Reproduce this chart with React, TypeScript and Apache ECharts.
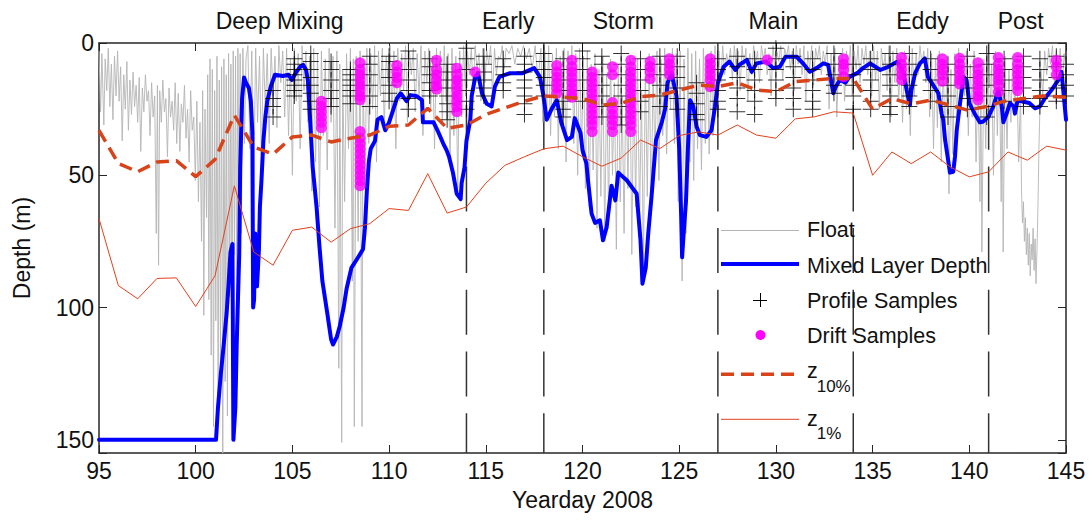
import React, { useEffect, useRef } from "react";
import * as echarts from "echarts";

// ---------- data ----------
const phaseNames = ["Deep Mixing", "Early", "Storm", "Main", "Eddy", "Post"];
const phaseCenters = [104.34, 116.16, 122.11, 129.87, 137.58, 142.66];
const phaseBoundaries = [114, 118, 127, 134, 141];

const z10Days = [95, 96, 97, 98, 99, 100, 101, 102, 103, 104, 105, 106, 107, 108, 109, 110, 111, 112, 113, 114, 115, 116, 117, 118, 119, 120, 121, 122, 123, 124, 125, 126, 127, 128, 129, 130, 131, 132, 133, 134, 135, 136, 137, 138, 139, 139.9, 140.9, 141.8, 142.8, 143.8, 145];
const z10Depths = [33, 45.5, 48.7, 45, 44.5, 50.5, 44, 27.3, 39.3, 42, 35.5, 34.8, 37.4, 36, 34.8, 31.5, 31, 24.7, 32.3, 31, 27, 24.5, 22, 20, 20.5, 21, 23.5, 22.8, 20.3, 19.7, 17.8, 15.9, 16.5, 15, 17.8, 18.4, 14.6, 14, 13.4, 13.4, 25, 21, 23, 21.6, 23.5, 25.4, 24, 22, 21, 20, 20.5];

const z1Days = [95, 96, 97, 98, 99, 100, 101, 102, 103, 104, 105, 106, 107, 108, 109, 110, 111, 112, 113, 114, 115, 116, 117, 118, 119, 120, 121, 122, 123, 124, 125, 126, 127, 128, 129, 130, 131, 132, 133, 134, 135, 136, 137, 138, 139, 140, 141, 142, 143, 144, 145];
const z1Depths = [66.4, 91.7, 96.7, 89, 88.8, 99.6, 88, 54, 79, 84, 70.8, 69.6, 75.3, 70.2, 68.3, 62.6, 63.3, 49.4, 64.3, 62, 53, 46.2, 43, 40, 39, 43, 46.6, 43.5, 36.7, 39.9, 35, 33.6, 34.8, 31, 34.8, 36, 28.7, 27.9, 26, 26.5, 50, 41.2, 45.6, 41.2, 46.8, 50.6, 48.7, 41.2, 44.3, 39, 40.5];

const mldTrack: [number, number][] = [
  [95, 150], [101.05, 150], [101.15, 138], [101.3, 125], [101.45, 114], [101.6, 102], [101.7, 91], [101.8, 79], [101.9, 76],
  [101.95, 150], [102.05, 138], [102.12, 114], [102.25, 80], [102.3, 47], [102.4, 21], [102.5, 13], [102.6, 15], [102.75, 17],
  [102.85, 22], [102.93, 34], [102.97, 100], [103.02, 97], [103.08, 72], [103.17, 92], [103.27, 78], [103.32, 62], [103.4, 52],
  [103.5, 37], [103.6, 28], [103.7, 22], [103.9, 16], [104.1, 12], [104.5, 12.5], [104.8, 12], [104.97, 14], [105.2, 11],
  [105.4, 9], [105.56, 8.3], [105.7, 10], [105.8, 14], [105.9, 27], [106.05, 47], [106.25, 62], [106.4, 77], [106.55, 90],
  [106.8, 102], [107.0, 112], [107.1, 114], [107.3, 111], [107.45, 107], [107.65, 100], [107.8, 93], [108.05, 85], [108.4, 81],
  [108.65, 78], [108.75, 70], [108.85, 56], [108.95, 45], [109.05, 40], [109.27, 37], [109.4, 29], [109.6, 28], [109.8, 33],
  [110.0, 30], [110.4, 21], [110.6, 19], [110.9, 22], [111.1, 19.7], [111.4, 20], [111.7, 21.6], [111.75, 30], [112.3, 30],
  [112.5, 33], [112.8, 38], [112.97, 40.5], [113.1, 43], [113.3, 49], [113.5, 57], [113.7, 59], [113.75, 53], [113.9, 47],
  [114.0, 37], [114.2, 29], [114.27, 20], [114.45, 13], [114.6, 11.4], [114.8, 19], [115.05, 23], [115.3, 24], [115.47, 16.5],
  [115.7, 12.8], [116.25, 11.4], [116.9, 11.4], [117.5, 9.5], [117.8, 12.8], [117.98, 20], [118.15, 29], [118.4, 25],
  [118.67, 21.6], [118.9, 30], [119.2, 36.7], [119.45, 35.5], [119.6, 28.4], [119.9, 34], [120.0, 40.5], [120.2, 45.5],
  [120.3, 53], [120.47, 64.5], [120.65, 68], [120.9, 67], [121.06, 74.6], [121.25, 69.6], [121.5, 54], [121.7, 59.5],
  [121.85, 49], [122.3, 52], [122.8, 57], [123.0, 74.6], [123.1, 91], [123.27, 85], [123.4, 72], [123.57, 58], [123.65, 50.6],
  [123.8, 36.7], [124.1, 30], [124.27, 25], [124.4, 15], [124.6, 11.4], [124.86, 20], [125.0, 40], [125.1, 65], [125.15, 81],
  [125.25, 70], [125.35, 60], [125.45, 40], [125.56, 21.6], [125.73, 24], [125.9, 31.7], [126.07, 34.8], [126.4, 35.5],
  [126.67, 33], [126.85, 24], [127.0, 15], [127.3, 9], [127.6, 7], [127.9, 10.2], [128.1, 8.3], [128.5, 6.4], [128.75, 10.9],
  [129.0, 7.7], [129.5, 7], [129.86, 9.5], [130.2, 9], [130.5, 5.2], [131.07, 5.2], [131.4, 7.7], [131.75, 10.9], [132.1, 9.5],
  [132.45, 7.7], [132.7, 8.3], [132.97, 19], [133.1, 16.5], [133.3, 14], [133.6, 15], [133.8, 12.8], [134.2, 11.4], [134.5, 9.5],
  [134.87, 7.7], [135.4, 10.2], [135.8, 9], [136.3, 7], [136.6, 11.4], [136.76, 17.8], [136.93, 23.5], [137.0, 18], [137.2, 11.4],
  [137.45, 7.7], [137.7, 5.8], [137.86, 12.8], [138.05, 15], [138.4, 19], [138.57, 26.7], [138.65, 29], [138.75, 36.7],
  [138.9, 44], [139.0, 49], [139.17, 48.7], [139.26, 43], [139.35, 33], [139.5, 24], [139.7, 12.8], [139.86, 14], [140.0, 22.7],
  [140.3, 27], [140.55, 30], [140.7, 29.8], [140.98, 28], [141.24, 24], [141.5, 17.8], [141.68, 24], [141.76, 30], [141.93, 26.7],
  [142.1, 22.7], [142.3, 24], [142.36, 26.7], [142.5, 21.6], [142.8, 22.2], [143.1, 22.7], [143.4, 24.7], [143.65, 24],
  [143.9, 21], [144.25, 17.8], [144.6, 14], [144.77, 10.9], [144.86, 18], [145.0, 29]
];

const floatTrack: [number, number][] = [
  [95.0, 3], [95.08, 26], [95.15, 4], [95.25, 31], [95.32, 6], [95.4, 18], [95.48, 2], [95.56, 24], [95.64, 8], [95.72, 29],
  [95.8, 5], [95.88, 20], [95.96, 3], [96.04, 22], [96.12, 9], [96.2, 37], [96.28, 12], [96.36, 25], [96.44, 7], [96.52, 33],
  [96.6, 14], [96.68, 27], [96.76, 11], [96.84, 24], [96.92, 16], [97.0, 30], [97.08, 13], [97.16, 41], [97.24, 17], [97.32, 26],
  [97.4, 12], [97.48, 22], [97.56, 18], [97.64, 35], [97.72, 15], [97.8, 28], [97.88, 20], [97.96, 72], [98.02, 16], [98.08, 84],
  [98.14, 18], [98.22, 30], [98.3, 14], [98.38, 26], [98.46, 21], [98.54, 43], [98.62, 17], [98.7, 28], [98.78, 22], [98.86, 33],
  [98.94, 15], [99.02, 38], [99.1, 19], [99.18, 41], [99.26, 23], [99.34, 30], [99.42, 16], [99.5, 36], [99.58, 25], [99.66, 45],
  [99.74, 18], [99.82, 33], [99.9, 28], [99.98, 52], [100.06, 22], [100.14, 60], [100.22, 30], [100.3, 75], [100.36, 18],
  [100.42, 103], [100.48, 25], [100.56, 66], [100.62, 12], [100.68, 97], [100.74, 6], [100.8, 118], [100.86, 10], [100.92, 145],
  [100.98, 18], [101.04, 105], [101.1, 5], [101.16, 138], [101.22, 14], [101.28, 120], [101.34, 9], [101.4, 155], [101.46, 6],
  [101.52, 128], [101.58, 12], [101.64, 141], [101.7, 4], [101.76, 96], [101.82, 8], [101.88, 112], [101.94, 3], [102.0, 80],
  [102.06, 5], [102.12, 98], [102.18, 2], [102.24, 55], [102.3, 4], [102.36, 72], [102.44, 2], [102.52, 38], [102.6, 6],
  [102.7, 1], [102.8, 40], [102.9, 3], [103.0, 55], [103.1, 2], [103.2, 30], [103.3, 5], [103.4, 45], [103.5, 2], [103.6, 25],
  [103.7, 4], [103.8, 38], [103.9, 2], [104.0, 20], [104.1, 5], [104.2, 32], [104.3, 1], [104.4, 15], [104.5, 3], [104.6, 28],
  [104.7, 2], [104.8, 35], [104.9, 6], [105.0, 50], [105.1, 2], [105.2, 22], [105.3, 4], [105.4, 40], [105.5, 1], [105.6, 18],
  [105.7, 3], [105.8, 30], [105.9, 5], [106.0, 56], [106.1, 2], [106.2, 45], [106.3, 4], [106.4, 62], [106.5, 3], [106.6, 35],
  [106.7, 6], [106.8, 48], [106.9, 2], [107.0, 30], [107.1, 5], [107.2, 70], [107.3, 3], [107.4, 123], [107.45, 8], [107.55, 151],
  [107.6, 10], [107.7, 60], [107.8, 4], [107.9, 40], [108.0, 2], [108.1, 90], [108.15, 6], [108.2, 145], [108.3, 5], [108.4, 75],
  [108.5, 3], [108.6, 145], [108.65, 8], [108.75, 55], [108.85, 2], [108.95, 38], [109.05, 4], [109.15, 25], [109.25, 1],
  [109.35, 45], [109.45, 3], [109.55, 20], [109.65, 2], [109.75, 32], [109.85, 5], [109.95, 15], [110.05, 1], [110.15, 28],
  [110.25, 3], [110.35, 40], [110.45, 2], [110.55, 22], [110.65, 4], [110.75, 18], [110.85, 1], [110.95, 30], [111.05, 3],
  [111.15, 12], [111.25, 2], [111.35, 26], [111.45, 4], [111.55, 20], [111.65, 1], [111.75, 35], [111.85, 3], [111.95, 15],
  [112.05, 2], [112.15, 25], [112.25, 5], [112.35, 40], [112.45, 2], [112.55, 18], [112.65, 3], [112.75, 30], [112.85, 1],
  [112.95, 22], [113.05, 4], [113.15, 45], [113.25, 2], [113.35, 35], [113.45, 5], [113.55, 55], [113.65, 3], [113.75, 28],
  [113.85, 1], [113.95, 20], [114.05, 3], [114.15, 12], [114.25, 2], [114.35, 18], [114.45, 1], [114.55, 10], [114.65, 4],
  [114.75, 22], [114.85, 2], [114.95, 15], [115.05, 3], [115.15, 8], [115.25, 1], [115.35, 20], [115.45, 2], [115.55, 12],
  [115.65, 5], [115.75, 6], [115.85, 1], [115.95, 10], [116.05, 2], [116.2, 4], [116.35, 1], [116.5, 8], [116.65, 2], [116.8, 5],
  [116.95, 1], [117.1, 6], [117.25, 2], [117.4, 10], [117.55, 1], [117.7, 14], [117.85, 2], [117.95, 30], [118.05, 3],
  [118.15, 25], [118.25, 1], [118.35, 35], [118.45, 4], [118.55, 28], [118.65, 2], [118.75, 40], [118.85, 5], [118.95, 30],
  [119.05, 2], [119.15, 45], [119.25, 3], [119.35, 22], [119.45, 1], [119.55, 38], [119.65, 4], [119.75, 50], [119.85, 2],
  [119.95, 42], [120.05, 5], [120.15, 55], [120.25, 3], [120.35, 62], [120.45, 8], [120.55, 48], [120.65, 4], [120.75, 70],
  [120.85, 10], [120.95, 58], [121.05, 5], [121.15, 75], [121.25, 12], [121.35, 65], [121.45, 6], [121.55, 50], [121.65, 15],
  [121.75, 78], [121.85, 8], [121.95, 60], [122.05, 20], [122.15, 72], [122.25, 10], [122.35, 55], [122.45, 5], [122.55, 80],
  [122.65, 12], [122.75, 62], [122.85, 6], [122.95, 68], [123.05, 18], [123.15, 85], [123.25, 8], [123.35, 58], [123.45, 4],
  [123.55, 65], [123.65, 10], [123.75, 45], [123.85, 3], [123.95, 52], [124.05, 6], [124.15, 35], [124.25, 2], [124.35, 42],
  [124.45, 5], [124.55, 25], [124.65, 2], [124.75, 38], [124.85, 4], [124.95, 60], [125.05, 3], [125.15, 90], [125.25, 6],
  [125.35, 72], [125.45, 2], [125.55, 45], [125.65, 4], [125.75, 52], [125.85, 3], [125.95, 40], [126.05, 6], [126.15, 48],
  [126.25, 2], [126.35, 38], [126.45, 5], [126.55, 42], [126.65, 3], [126.75, 35], [126.85, 1], [126.95, 25], [127.05, 3],
  [127.15, 15], [127.25, 1], [127.35, 12], [127.45, 4], [127.55, 8], [127.65, 2], [127.75, 14], [127.85, 1], [127.95, 10],
  [128.05, 3], [128.15, 18], [128.25, 1], [128.35, 9], [128.45, 2], [128.55, 22], [128.65, 4], [128.75, 12], [128.85, 1],
  [128.95, 8], [129.05, 3], [129.15, 15], [129.25, 1], [129.35, 6], [129.45, 2], [129.55, 12], [129.65, 4], [129.75, 20],
  [129.85, 1], [129.95, 10], [130.05, 3], [130.15, 7], [130.25, 1], [130.35, 14], [130.45, 2], [130.55, 5], [130.65, 1],
  [130.75, 10], [130.85, 3], [130.95, 18], [131.05, 1], [131.15, 8], [131.25, 2], [131.35, 12], [131.45, 1], [131.55, 22],
  [131.65, 3], [131.75, 10], [131.85, 1], [131.95, 16], [132.05, 2], [132.15, 6], [132.25, 1], [132.35, 12], [132.45, 3],
  [132.55, 8], [132.65, 1], [132.75, 25], [132.85, 4], [132.95, 18], [133.05, 2], [133.15, 28], [133.25, 5], [133.35, 15],
  [133.45, 2], [133.55, 22], [133.65, 3], [133.75, 12], [133.85, 1], [133.95, 20], [134.05, 3], [134.15, 10], [134.25, 1],
  [134.35, 15], [134.45, 2], [134.55, 8], [134.65, 1], [134.75, 12], [134.85, 3], [134.95, 20], [135.05, 1], [135.15, 14],
  [135.25, 3], [135.35, 25], [135.45, 2], [135.55, 10], [135.65, 4], [135.75, 18], [135.85, 1], [135.95, 28], [136.05, 3],
  [136.15, 15], [136.25, 2], [136.35, 22], [136.45, 5], [136.55, 30], [136.65, 3], [136.75, 25], [136.85, 6], [136.95, 35],
  [137.05, 2], [137.15, 20], [137.25, 4], [137.35, 12], [137.45, 1], [137.55, 8], [137.65, 3], [137.75, 15], [137.85, 2],
  [137.95, 28], [138.05, 4], [138.15, 40], [138.25, 6], [138.35, 32], [138.45, 3], [138.55, 45], [138.65, 8], [138.75, 38],
  [138.85, 5], [138.95, 57], [139.05, 10], [139.15, 42], [139.25, 4], [139.35, 30], [139.45, 2], [139.55, 25], [139.65, 6],
  [139.75, 20], [139.85, 3], [139.95, 35], [140.05, 8], [140.15, 28], [140.25, 3], [140.35, 45], [140.45, 10], [140.55, 60],
  [140.6, 12], [140.65, 79], [140.75, 6], [140.85, 40], [140.95, 4], [141.05, 30], [141.15, 8], [141.25, 50], [141.35, 3],
  [141.45, 35], [141.55, 6], [141.65, 60], [141.7, 10], [141.75, 79], [141.85, 5], [141.95, 40], [142.05, 10], [142.15, 30],
  [142.25, 5], [142.35, 25], [142.45, 8], [142.55, 45], [142.65, 20], [142.7, 56], [142.75, 68], [142.8, 60], [142.85, 75],
  [142.9, 66], [142.95, 80], [143.0, 70], [143.05, 84], [143.1, 72], [143.15, 88], [143.2, 76], [143.25, 82], [143.3, 70],
  [143.35, 86], [143.4, 74], [143.45, 91], [143.5, 78], [143.55, 62], [143.6, 40], [143.7, 10], [143.8, 20], [143.9, 3],
  [144.0, 12], [144.1, 2], [144.2, 8], [144.3, 1], [144.4, 15], [144.5, 3], [144.6, 10], [144.7, 2], [144.8, 18], [144.9, 4],
  [145.0, 10]
];

const profileDays = [104.0, 105.1, 105.95, 107.0, 108.0, 109.0, 110.0, 111.0, 112.1, 113.0, 114.0, 114.9, 115.9, 117.0, 118.0, 119.0, 120.0, 121.0, 122.0, 123.0, 124.0, 124.9, 125.9, 127.0, 128.0, 128.9, 130.0, 130.9, 131.9, 133.0, 134.0, 134.9, 135.9, 136.9, 138.0, 138.9, 139.9, 140.9, 141.8, 142.8, 143.65, 144.5, 145.0];
const profileDepths = [
  [18, 21, 24, 28], [6, 8, 10, 12, 14, 16, 18, 20], [4, 7, 10, 13, 16, 19, 22, 25], [7, 10, 14, 18, 21, 24],
  [10, 12, 14, 16, 18, 20, 23], [5, 8, 12, 16, 20, 24], [5, 7, 10, 13, 16, 19, 22], [3, 6, 10, 14, 18, 21, 25],
  [6, 9, 12, 15, 18, 20], [8, 11, 14, 17, 20, 23, 26, 29], [2, 6, 10, 14, 18, 22, 25], [5, 8, 11, 14, 17, 20],
  [6, 9, 12, 15, 18], [5, 8, 11, 14, 17, 20, 23, 27], [4, 7, 10, 13, 16, 20], [6, 10, 14, 18, 22, 25, 28],
  [3, 6, 10, 14, 18, 22], [5, 8, 12, 16, 20, 24, 28], [4, 8, 12, 16, 20, 24, 28, 31], [6, 10, 14, 18, 22, 26],
  [5, 8, 12, 16, 20, 24], [5, 9, 13, 17, 21, 25], [15, 19, 23, 27, 29], [6, 10, 14, 18, 22, 25],
  [5, 9, 13, 17, 21, 26], [6, 10, 14, 18, 22, 27], [2, 6, 10, 14, 18, 21], [5, 9, 13, 17, 21, 25],
  [6, 10, 14, 18, 22, 25], [4, 8, 12, 16, 19], [8, 12, 16, 20, 25], [6, 10, 14, 18, 22, 25],
  [4, 8, 12, 16, 20, 24, 27], [4, 8, 12, 16, 20, 24], [6, 10, 14, 18, 22], [8, 12, 16, 20, 24, 28],
  [5, 9, 13, 17, 21, 25], [4, 8, 12, 16, 20, 24, 28], [6, 10, 14, 18, 22], [5, 9, 13, 17, 21, 24],
  [6, 10, 14, 18, 21, 24], [5, 9, 13, 17, 20, 22], [8, 12, 16, 20]
];

const driftDays = [106.5, 108.5, 110.4, 112.45, 113.5, 114.45, 118.67, 119.45, 120.5, 121.55, 122.5, 123.5, 124.5, 126.6, 129.55, 133.5, 136.5, 138.6, 139.5, 140.45, 141.5, 142.5, 144.5];
const driftDepths = [
  [22, 24, 26, 28, 30, 32],
  [7.5, 10, 12, 14, 16, 18, 20, 21.5, 33.5, 36, 38, 40, 42, 44, 46, 48, 50, 52, 54],
  [8.5, 11, 13, 15],
  [6.5, 10, 12, 14, 16, 17.5],
  [9.5, 12, 14, 16, 18, 20, 22, 24, 26],
  [11],
  [8.5, 11, 13, 15, 17, 19],
  [6.5, 9, 11, 13, 15, 17, 19, 20.5],
  [11, 13, 15, 17, 19, 21, 23, 25, 27, 29, 31, 33.5],
  [9, 12, 22.5, 25, 27, 29, 31, 33.5],
  [6.5, 9, 11, 13, 15, 17, 19, 21, 23, 25, 27, 29, 31, 33.5],
  [7, 9, 11, 13.5],
  [6, 8, 10, 12],
  [6, 8, 10, 12, 14, 16.5],
  [6.4],
  [6, 8, 10, 12.8],
  [5.5, 8, 10, 12, 14],
  [6, 8, 10, 12, 14.5],
  [5.8, 8, 10, 12, 14, 15.5],
  [7.5, 10, 12, 14, 16, 18, 20, 21.5],
  [5.5, 8, 10, 12, 14, 16, 18.5],
  [5.5, 8, 10, 12, 14, 16, 18],
  [6.5, 9, 12]
];

const legendLabels = ["Float", "Mixed Layer Depth", "Profile Samples", "Drift Samples"];

// ---------- styles ----------
const FONT = '"Liberation Sans", Arial, Helvetica, sans-serif';
const AXIS_COLOR = "#262626";
const TEXT_COLOR = "#111111";
const FLOAT_COLOR = "#b4b4b4";
const MLD_COLOR = "#0000ff";
const Z10_COLOR = "#d9431a";
const Z1_COLOR = "#e2401c";
const DRIFT_COLOR = "#ff00ff";
const PLUS_PATH = "path://M7.5,0 h1 v7.5 h7.5 v1 h-7.5 v7.5 h-1 v-7.5 h-7.5 v-1 h7.5 z";

export default function App() {
  const ref = useRef<HTMLDivElement>(null);

  useEffect(() => {
    if (!ref.current) return;
    const chart = echarts.init(ref.current, undefined, { renderer: "svg" });

    const profilePts: [number, number][] = profileDays.flatMap((d, i) => profileDepths[i].map((z) => [d, z] as [number, number]));
    const driftPts: [number, number][] = driftDays.flatMap((d, i) => driftDepths[i].map((z) => [d, z] as [number, number]));
    const z10Pts = z10Days.map((d, i) => [d, z10Depths[i]]);
    const z1Pts = z1Days.map((d, i) => [d, z1Depths[i]]);

    const boundarySeries = phaseBoundaries.map((d) => ({
      type: "line",
      data: [[d, 0], [d, 155]],
      symbol: "none",
      silent: true,
      lineStyle: { color: "#333333", width: 1.5, type: [45, 16.7] },
      z: 1,
    }));

    const xBase = {
      type: "value",
      min: 95,
      max: 145,
      interval: 5,
      splitLine: { show: false },
      axisLine: { show: true, onZero: false, lineStyle: { color: AXIS_COLOR, width: 1.5 } },
      axisTick: { show: true, inside: true, length: 8, lineStyle: { color: AXIS_COLOR, width: 1 } },
    };
    const yBase = {
      type: "value",
      min: 0,
      max: 155,
      interval: 50,
      inverse: true,
      splitLine: { show: false },
      axisLine: { show: true, onZero: false, lineStyle: { color: AXIS_COLOR, width: 1.5 } },
      axisTick: { show: true, inside: true, length: 8, lineStyle: { color: AXIS_COLOR, width: 1 } },
    };

    chart.setOption({
      animation: false,
      backgroundColor: "#ffffff",
      grid: { left: 99, right: 26, top: 43, bottom: 67, containLabel: false },
      xAxis: [
        {
          ...xBase,
          position: "bottom",
          name: "Yearday 2008",
          nameLocation: "middle",
          nameGap: 35,
          nameTextStyle: { fontFamily: FONT, fontSize: 23, color: TEXT_COLOR },
          axisLabel: { fontFamily: FONT, fontSize: 23, color: TEXT_COLOR, margin: 6 },
        },
        { ...xBase, position: "top", axisLabel: { show: false } },
      ],
      yAxis: [
        {
          ...yBase,
          position: "left",
          name: "Depth (m)",
          nameLocation: "middle",
          nameGap: 66,
          nameRotate: 90,
          nameTextStyle: { fontFamily: FONT, fontSize: 23, color: TEXT_COLOR },
          axisLabel: {
            fontFamily: FONT,
            fontSize: 23,
            color: TEXT_COLOR,
            margin: 5,
            formatter: (v: number) => (v % 50 === 0 ? String(v) : ""),
          },
        },
        { ...yBase, position: "right", axisLabel: { show: false } },
      ],
      series: [
        ...boundarySeries,
        {
          name: "Float",
          type: "line",
          data: floatTrack,
          symbol: "none",
          lineStyle: { color: FLOAT_COLOR, width: 0.9 },
          z: 2,
        },
        {
          name: "Mixed Layer Depth",
          type: "line",
          data: mldTrack,
          symbol: "none",
          lineStyle: { color: MLD_COLOR, width: 4, join: "round", cap: "round" },
          z: 3,
        },
        {
          name: "Profile Samples",
          type: "scatter",
          data: profilePts,
          symbol: PLUS_PATH,
          symbolSize: 16,
          itemStyle: { color: "#000000" },
          z: 4,
        },
        {
          name: "Drift Samples",
          type: "scatter",
          data: driftPts,
          symbol: "circle",
          symbolSize: 11,
          itemStyle: { color: DRIFT_COLOR },
          z: 5,
        },
        {
          name: "z10%",
          type: "line",
          data: z10Pts,
          symbol: "none",
          lineStyle: { color: Z10_COLOR, width: 3.5, type: [13, 7] },
          z: 6,
        },
        {
          name: "z1%",
          type: "line",
          data: z1Pts,
          symbol: "none",
          lineStyle: { color: Z1_COLOR, width: 1 },
          z: 6,
        },
      ],
    });

    const txt = (text: string, x: number, y: number, size: number, align = "left") => ({
      type: "text",
      x,
      y,
      z: 100,
      style: { text, fontFamily: FONT, fontSize: size, fill: TEXT_COLOR, align, verticalAlign: "middle" },
    });

    const phaseLabels = phaseNames.map((n, i) =>
      txt(n, chart.convertToPixel({ xAxisIndex: 0 }, phaseCenters[i]) as number, 21, 23, "center")
    );

    const lx1 = 721;
    const lx2 = 799;
    const lcx = 760;
    const ltx = 807;
    const legend = [
      { type: "line", z: 100, shape: { x1: lx1, y1: 230.5, x2: lx2, y2: 230.5 }, style: { stroke: FLOAT_COLOR, lineWidth: 1 } },
      txt(legendLabels[0], ltx, 230, 21.5),
      { type: "line", z: 100, shape: { x1: lx1, y1: 264, x2: lx2, y2: 264 }, style: { stroke: MLD_COLOR, lineWidth: 4 } },
      txt(legendLabels[1], ltx, 265.5, 21.5),
      { type: "line", z: 100, shape: { x1: lcx - 7, y1: 300.5, x2: lcx + 7, y2: 300.5 }, style: { stroke: "#000", lineWidth: 1 } },
      { type: "line", z: 100, shape: { x1: lcx + 0.5, y1: 293, x2: lcx + 0.5, y2: 307 }, style: { stroke: "#000", lineWidth: 1 } },
      txt(legendLabels[2], ltx, 300.5, 21.5),
      { type: "circle", z: 100, shape: { cx: lcx + 0.5, cy: 335, r: 5 }, style: { fill: DRIFT_COLOR } },
      txt(legendLabels[3], ltx, 335.5, 21.5),
      { type: "line", z: 100, shape: { x1: lx1, y1: 374.3, x2: lx2, y2: 374.3 }, style: { stroke: Z10_COLOR, lineWidth: 3.5, lineDash: [13, 7] } },
      txt("z", ltx, 371, 21.5),
      txt("10%", 816.7, 386.4, 17),
      { type: "line", z: 100, shape: { x1: lx1, y1: 419.3, x2: lx2, y2: 419.3 }, style: { stroke: Z1_COLOR, lineWidth: 1 } },
      txt("z", ltx, 419, 21.5),
      txt("1%", 816.7, 433, 17),
    ];

    chart.setOption({ graphic: [...phaseLabels, ...legend] });

    return () => chart.dispose();
  }, []);

  return (
    <div
      ref={ref}
      style={{ position: "fixed", left: 0, top: 0, width: 1092, height: 520, background: "#fff" }}
    />
  );
}
